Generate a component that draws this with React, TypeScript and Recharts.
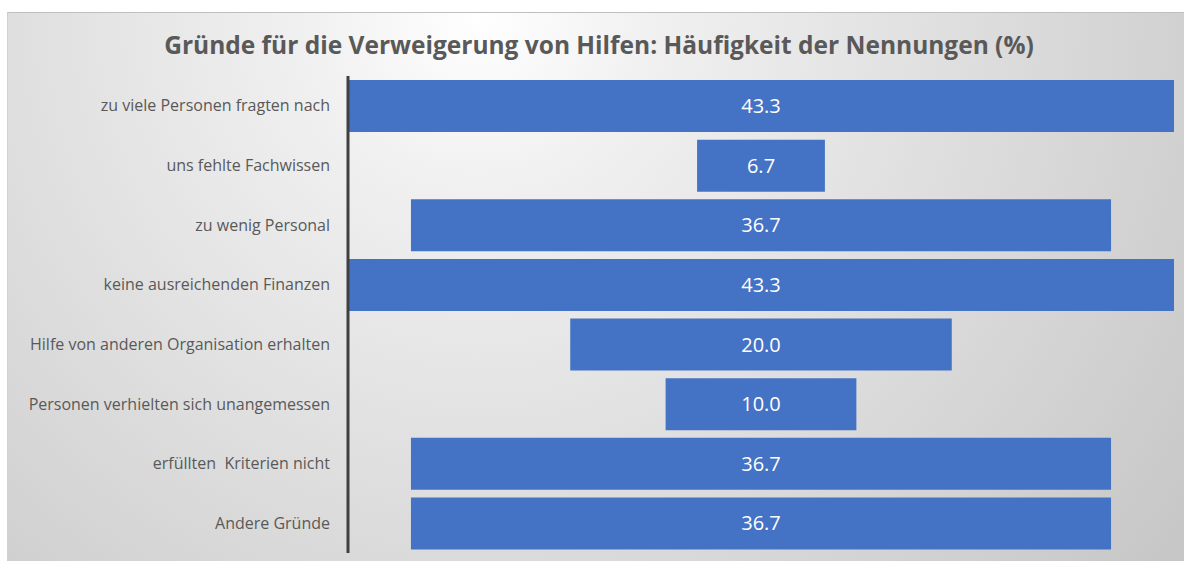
import { BarChart, Bar, XAxis, YAxis, LabelList } from 'recharts';

const categories = [
  'zu viele Personen fragten nach',
  'uns fehlte Fachwissen',
  'zu wenig Personal',
  'keine ausreichenden Finanzen',
  'Hilfe von anderen Organisation erhalten',
  'Personen verhielten sich unangemessen',
  'erfüllten  Kriterien nicht',
  'Andere Gründe',
];
const shares = [43.3, 6.7, 36.7, 43.3, 20.0, 10.0, 36.7, 36.7];
const maxShare = 43.3;

// invisible spacer so each bar sits centred, funnel style
const data = categories.map((name, i) => ({
  name,
  pad: (maxShare - shares[i]) / 2,
  value: shares[i],
}));

const font = '"Open Sans", Lato, sans-serif';

// own tick so the double space in one label survives
const CategoryTick = ({ x, y, payload }: any) => (
  <text
    x={x - 10}
    y={y}
    dy="0.355em"
    textAnchor="end"
    fill="#595959"
    fontSize={16}
    fontFamily={font}
    style={{ whiteSpace: 'pre' }}
  >
    {payload.value}
  </text>
);

const App = () => {
  return (
    <div style={{ position: 'absolute', left: 0, top: 0, width: 1184, height: 561 }}>
      <div
        style={{
          position: 'absolute',
          left: 7,
          top: 12,
          width: 1177,
          height: 549,
          borderTop: '1px solid #bfbfbf',
          borderLeft: '1px solid #d0d0d0',
          boxSizing: 'border-box',
          background:
            'radial-gradient(circle farthest-corner at 40% 0%, #ffffff 0%, #f0f0f0 20%, #c6c6c6 100%)',
        }}
      />
      <div
        style={{
          position: 'absolute',
          left: 0,
          top: 28,
          width: 1198,
          textAlign: 'center',
          fontFamily: font,
          fontWeight: 700,
          fontSize: 24.5,
          color: '#595959',
          whiteSpace: 'pre',
        }}
      >
        Gründe für die Verweigerung von Hilfen: Häufigkeit der Nennungen (%)
      </div>
      <div style={{ position: 'absolute', left: 0, top: 0 }}>
        <BarChart
          width={1184}
          height={561}
          data={data}
          layout="vertical"
          margin={{ top: 76, right: 10, bottom: 8, left: 0 }}
          barSize={52}
        >
          <XAxis type="number" domain={[0, maxShare]} hide />
          <YAxis
            type="category"
            dataKey="name"
            width={348}
            axisLine={{ stroke: '#404040', strokeWidth: 3 }}
            tickLine={false}
            tick={<CategoryTick />}
          />
          <Bar dataKey="pad" stackId="a" fill="transparent" isAnimationActive={false} />
          <Bar dataKey="value" stackId="a" fill="#4472c4" isAnimationActive={false}>
            <LabelList
              dataKey="value"
              position="center"
              formatter={(v: number) => v.toFixed(1)}
              style={{ fill: '#ffffff', fontSize: 20, fontFamily: font }}
            />
          </Bar>
        </BarChart>
      </div>
    </div>
  );
};

export default App;
